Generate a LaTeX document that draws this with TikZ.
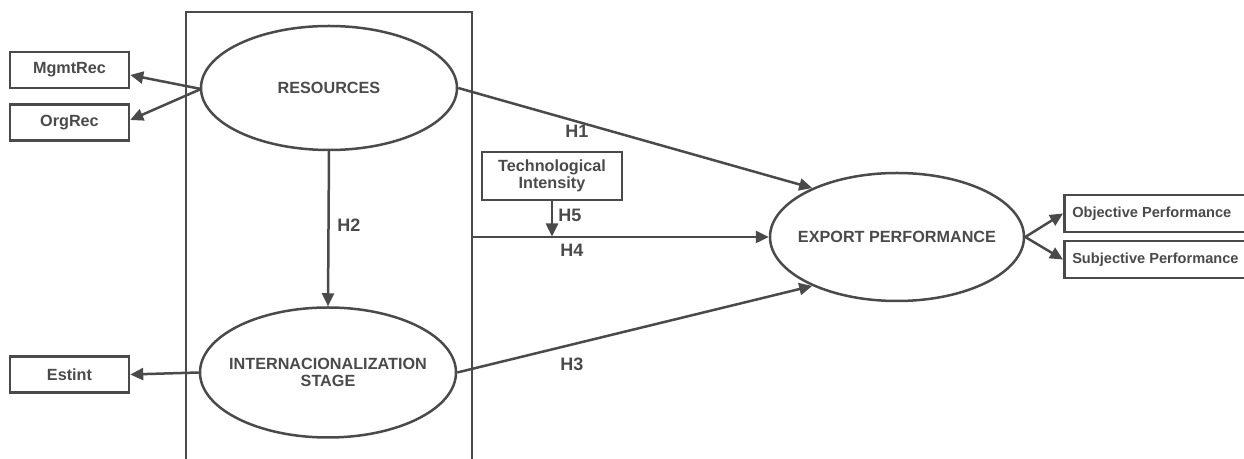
\documentclass[tikz,border=0pt]{standalone}
\usepackage{fontspec}
\setmainfont{Liberation Sans}
\usetikzlibrary{shapes.geometric,arrows.meta}
\definecolor{ink}{HTML}{4A4A4A}
\begin{document}
\begin{tikzpicture}[x=0.5pt,y=-0.5pt,
  line width=1.25pt, draw=ink, text=ink,
  every node/.style={font=\bfseries\fontsize{8.1}{9.5}\selectfont},
  oval/.style={ellipse, draw, minimum width=128pt, minimum height=62pt, inner sep=-12pt, align=center},
  ind/.style={rectangle, draw, minimum width=59.5pt, minimum height=18pt, inner sep=0pt},
  perf/.style={rectangle, draw, minimum width=95pt, minimum height=18.5pt, inner sep=0pt, font=\bfseries\fontsize{7.3}{9}\selectfont},
  hl/.style={font=\bfseries\fontsize{9}{10}\selectfont},
  arr/.style={draw=ink, -{Triangle[length=6.5pt,width=6pt]}}
]
\useasboundingbox (0,0) rectangle (1244,459);
\begin{scope}
\clip (0,0) rectangle (1244,459);
% frame box
\draw (186,470) -- (186,12) -- (472,12) -- (472,470);
\node[oval] (res) at (329,88) {RESOURCES};
\node[oval, minimum height=65pt] (int) at (328,372.5) {INTERNACIONALIZATION\\[-1pt]STAGE};
\node[oval, minimum width=127pt, minimum height=64pt] (exp) at (897,237) {EXPORT PERFORMANCE};
\node[ind] (mgmt) at (69.5,70) {MgmtRec};
\node[ind] (org) at (69.5,122.5) {OrgRec};
\node[ind] (est) at (69.5,374.5) {Estint};
\node[perf, anchor=west] (obj) at (1063,213.5) {\hspace*{4pt}Objective Performance\hspace*{14pt}};
\node[perf, anchor=west] (sub) at (1063,259.5) {\hspace*{4pt}Subjective Performance\hspace*{14pt}};
\node[rectangle, draw, minimum width=70pt, minimum height=24pt, inner sep=0pt, align=center] (tech) at (552,176) {Technological\\[-1pt]Intensity};
\coordinate (fr) at (472,237);
\coordinate (h5end) at (552,236.5);
\coordinate (resl) at (201,89);
% connectors
\draw[arr] (resl) -- (mgmt.east |- 0,75) ;
\draw[arr] (resl) -- (org.east |- 0,120);
\draw[arr] (int.west) -- (est.east);
\draw[arr] (res.south) -- (int.north);
\draw[arr] (res.east) -- (exp.150);
\draw[arr] (fr) -- (exp.west);
\draw[arr] (tech.south) -- (h5end);
\draw[arr] (int.east) -- (exp.-150);
\draw[arr] (exp.east) -- (obj.west);
\draw[arr] (exp.east) -- (sub.west);
\end{scope}
% labels
\node[hl] (h1) at (577,131) {H1};
\node[hl] (h2) at (349,225) {H2};
\node[hl] (h3) at (572,364) {H3};
\node[hl] (h4) at (572,250) {H4};
\node[hl] (h5) at (570,215) {H5};
\end{tikzpicture}
\end{document}
